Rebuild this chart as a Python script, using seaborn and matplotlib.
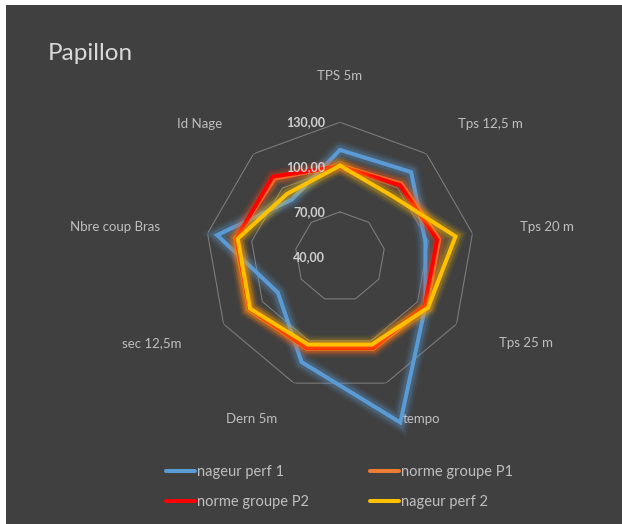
import numpy as np
import pandas as pd
import matplotlib
matplotlib.use("Agg")
import matplotlib.pyplot as plt
import matplotlib.patheffects as pe
from matplotlib.lines import Line2D
from matplotlib.patches import Rectangle
import seaborn as sns

# Radar axes, clockwise from the top
categories = ["TPS 5m", "Tps 12,5 m", "Tps 20 m", "Tps 25 m", "tempo",
              "Dern 5m", "sec 12,5m", "Nbre coup Bras", "Id Nage"]

series_names = ["nageur perf 1", "norme groupe P1", "norme groupe P2", "nageur perf 2"]
nageur_perf_1 = [111.5, 114.0, 98.0, 106.0, 158.0, 115.0, 88.0, 123.5, 90.0]
norme_groupe_p1 = [101.0, 104.0, 107.5, 107.0, 105.5, 105.5, 110.5, 111.0, 108.0]
norme_groupe_p2 = [100.5, 102.5, 106.0, 105.5, 105.0, 105.0, 110.0, 110.5, 110.0]
nageur_perf_2 = [101.0, 93.5, 118.5, 108.0, 102.5, 102.5, 109.5, 109.5, 95.0]

scale_ticks = [40, 70, 100, 130]
colors = ["#5B9BD5", "#ED7D31", "#FF0000", "#FFC000"]
glow_strength = [1.0, 1.0, 0.35, 1.0]

BG = "#404040"
TXT = "#bfbfbf"

sns.set_theme(style="white")
plt.rcParams["font.family"] = ["Lato", "DejaVu Sans"]

n = len(categories)
angles = np.linspace(0, 2 * np.pi, n, endpoint=False)
closed_angles = np.append(angles, 2 * np.pi)

rows = []
for name, vals in zip(series_names,
                      [nageur_perf_1, norme_groupe_p1, norme_groupe_p2, nageur_perf_2]):
    for th, v in zip(closed_angles, list(vals) + [vals[0]]):
        rows.append({"series": name, "theta": th, "value": v})
df = pd.DataFrame(rows)

fig = plt.figure(figsize=(6.22, 5.24), dpi=100)
fig.patch.set_facecolor("white")
fig.add_artist(Rectangle((6 / 622, 0), 1, (524 - 5) / 524, transform=fig.transFigure,
                         facecolor=BG, edgecolor="none", zorder=-10))

ax = fig.add_axes([0.3304, 0.2533, 0.4325, 0.5134], projection="polar")
ax.set_facecolor("none")
ax.set_theta_zero_location("N")
ax.set_theta_direction(-1)
ax.set_ylim(scale_ticks[0], scale_ticks[-1])
ax.grid(False)
ax.spines["polar"].set_visible(False)
ax.set_xticks([])
ax.set_yticks([])

sns.lineplot(data=df, x="theta", y="value", hue="series", hue_order=series_names,
             palette=dict(zip(series_names, colors)), sort=False, estimator=None,
             linewidth=2.9, legend=False, ax=ax)

# Soft glow around each series line
for line, col, g in zip(ax.lines, colors, glow_strength):
    line.set_clip_on(False)
    line.set_solid_joinstyle("miter")
    line.set_zorder(3)
    line.set_path_effects([
        pe.Stroke(linewidth=13, foreground=col, alpha=0.07 * g),
        pe.Stroke(linewidth=10, foreground=col, alpha=0.12 * g),
        pe.Stroke(linewidth=7, foreground=col, alpha=0.22 * g),
        pe.Normal(),
    ])

# Nonagon grid rings
for r in scale_ticks[1:]:
    ax.plot(closed_angles, [r] * (n + 1), color="#7f7f7f", linewidth=0.75, zorder=1)

# Scale labels along the top spoke
for v in scale_ticks:
    ax.annotate(f"{v:.2f}".replace(".", ","), xy=(0, v), xytext=(-15, 0),
                textcoords="offset pixels", ha="right", va="center",
                fontsize=9, fontweight="bold", color="#d0d0d0",
                annotation_clip=False, zorder=5)

# Category labels around the outer ring
for th, lab in zip(angles, categories):
    s, c = np.sin(th), np.cos(th)
    if abs(s) < 1e-6:
        dx, dy, ha = 0, 46, "center"
    else:
        dx, dy = 48.5 * s, 38.5 * c
        ha = "left" if s > 0 else "right"
    ax.annotate(lab, xy=(th, scale_ticks[-1]), xytext=(dx, dy),
                textcoords="offset pixels", ha=ha, va="center",
                fontsize=9.5, color=TXT, annotation_clip=False)

fig.text(48 / 622, 1 - 53 / 524, "Papillon", fontsize=17.5, color="#d9d9d9",
         ha="left", va="center")

handles = [Line2D([], [], color=c, linewidth=2.9) for c in colors]
order = [0, 2, 1, 3]
fig.legend([handles[i] for i in order], [series_names[i] for i in order],
           loc="center", bbox_to_anchor=(0.5458, 1 - 487 / 524), ncol=2,
           frameon=False, fontsize=10.5, labelcolor=TXT, handlelength=2.0,
           handletextpad=0.1, columnspacing=4.2, labelspacing=1.1)

fig.savefig("out.png", dpi=100, facecolor=fig.get_facecolor())
